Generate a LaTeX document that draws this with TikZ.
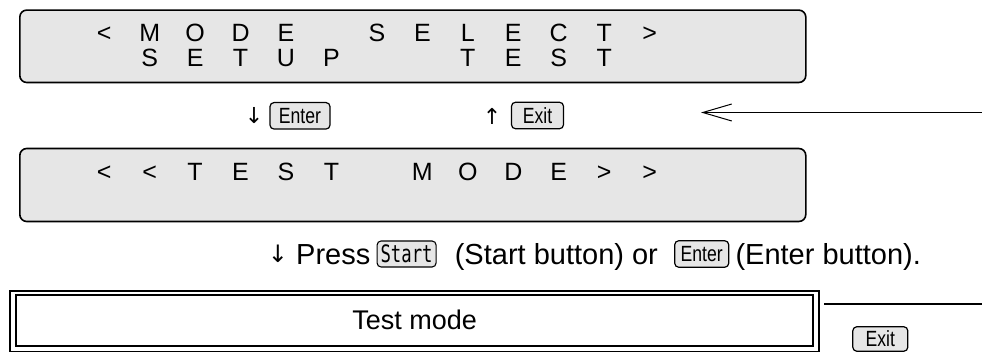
\documentclass[tikz,border=0pt]{standalone}
\usepackage{fontspec}
\setmainfont{Liberation Sans}
\newfontfamily\keyfont[FakeStretch=0.8]{Liberation Sans}
\newfontfamily\startfont[FakeStretch=0.72]{DejaVu Sans Mono}
\newfontfamily\arrowfont{DejaVu Sans}
\usetikzlibrary{arrows.meta,positioning}
\definecolor{lcdgray}{HTML}{E6E6E6}
\newcommand\lcdch[1]{\makebox[45.45pt]{#1}}
\tikzset{
  lcdbox/.style={draw, line width=1.6pt, rounded corners=7pt, fill=lcdgray, anchor=north west, inner sep=0},
  lcdrow/.style={anchor=base west, inner sep=0, font=\fontsize{25}{25}\selectfont},
  keybox/.style={draw, line width=1.2pt, rounded corners=4pt, fill=lcdgray, inner sep=0,
                 font=\keyfont\fontsize{22}{22}\selectfont, minimum height=26.5pt},
  startbox/.style={draw, line width=1.1pt, rounded corners=4pt, fill=lcdgray, inner sep=0,
                 font=\startfont\fontsize{24}{24}\selectfont, minimum height=26pt, minimum width=59pt},
  arrowtxt/.style={inner sep=0, font=\arrowfont\fontsize{22}{22}\selectfont},
  bottxt/.style={inner sep=0, anchor=base west, font=\fontsize{29}{29}\selectfont},
  frame/.style={draw, line width=2pt, inner sep=0},
}
\begin{document}
\begin{tikzpicture}[x=1pt,y=-1pt]
\useasboundingbox (0,0) rectangle (982,352);
% LCD 1
\node[lcdbox, minimum width=786pt, minimum height=72.4pt] (lcd1) at (19,9.3) {};
\node[lcdrow] (row1) at (81.3,42) {\lcdch{<}\lcdch{M}\lcdch{O}\lcdch{D}\lcdch{E}\lcdch{}\lcdch{S}\lcdch{E}\lcdch{L}\lcdch{E}\lcdch{C}\lcdch{T}\lcdch{>}};
\node[lcdrow] (row2) at (81.3,67) {\lcdch{}\lcdch{S}\lcdch{E}\lcdch{T}\lcdch{U}\lcdch{P}\lcdch{}\lcdch{}\lcdch{T}\lcdch{E}\lcdch{S}\lcdch{T}};
% keys row
\node[arrowtxt] (dn1) at (254,116) {↓};
\node[keybox, minimum width=60pt] (enter1) at (300,115.8) {Enter};
\node[arrowtxt] (up1) at (492,116) {↑};
\node[keybox, minimum width=52pt] (exit1) at (537.5,115.5) {Exit};
\coordinate (atip) at (701,112.5);
\coordinate (aend) at (982,112.5);
\draw[line width=1.5pt, -{Straight Barb[length=29pt,width=17pt,line width=1pt]}] (aend) -- (atip);
% LCD 2
\node[lcdbox, minimum width=786pt, minimum height=73pt] (lcd2) at (19,147.7) {};
\node[lcdrow] (row3) at (81.3,180.5) {\lcdch{<}\lcdch{<}\lcdch{T}\lcdch{E}\lcdch{S}\lcdch{T}\lcdch{}\lcdch{M}\lcdch{O}\lcdch{D}\lcdch{E}\lcdch{>}\lcdch{>}};
% bottom sentence
\node[arrowtxt, font=\arrowfont\fontsize{24}{24}\selectfont] (dn2) at (278,254) {↓};
\node[bottxt] (press) at (296,264.5) {Press};
\node[startbox, anchor=west] (startkey) at ([xshift=6pt]press.east |- 0,254) {Start};
\node[bottxt] (startbtn) at ([xshift=18pt]startkey.east |- press.base) {(Start button) or};
\node[keybox, minimum width=54pt, anchor=west] (enter2) at ([xshift=16pt]startbtn.east |- startkey) {Enter};
\node[bottxt] (enterbtn) at ([xshift=6pt]enter2.east |- press.base) {(Enter button).};
% test mode frame
\node[frame, minimum width=808.4pt, minimum height=60.7pt, anchor=north west] (outer) at (9.3,290) {};
\node[frame, minimum width=797.3pt, minimum height=50.7pt, font=\fontsize{27}{27}\selectfont] (testmode) at (414.6,320.3) {Test mode};
\coordinate (lstart) at (824,304);
\coordinate (lend) at (982,304);
\draw[line width=1.5pt] (lstart) -- (lend);
\node[keybox, minimum width=55pt, minimum height=24.5pt] (exit2) at (880.3,339) {Exit};
\end{tikzpicture}
\end{document}
